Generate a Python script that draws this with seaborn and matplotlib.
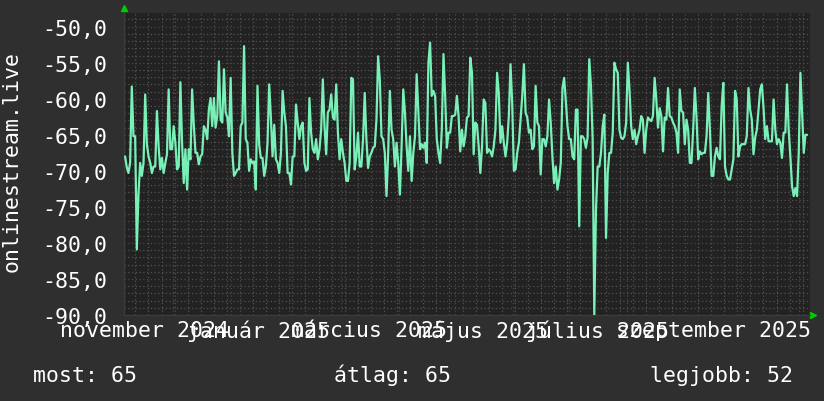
import pandas as pd
import matplotlib
matplotlib.use("Agg")
import matplotlib.pyplot as plt
import matplotlib.dates as mdates
from matplotlib.ticker import MultipleLocator, FuncFormatter, NullFormatter
import seaborn as sns

# ------------------------------
# adatok (napi értékek, leolvasva)
# ------------------------------
vals_nov_dec = [-68.0, -69.5, -70.3, -68.9, -58.3, -65.2, -65.2, -80.9, -73.1, -68.9,
                -70.7, -68.9, -59.4, -66.3, -68.0, -68.9, -70.3, -69.4, -69.4, -61.7,
                -66.6, -69.8, -68.2, -70.3, -68.9, -67.7, -58.7, -67.0, -67.0, -63.8,
                -66.1, -69.8, -69.4, -57.7, -66.1, -71.7, -67.0, -72.6, -67.0, -68.4,
                -58.7, -63.6, -67.5, -67.5, -69.1, -68.0, -67.7, -63.8, -64.3, -65.6,
                -61.5, -59.9, -63.8, -59.9, -64.0, -62.4, -54.8, -62.9, -63.3, -55.9,
                -61.9, -62.6, -65.2, -57.1]
vals_jan_feb = [-67.5, -70.7, -70.3, -69.8, -69.8, -63.8, -63.3, -52.7, -65.6, -66.1,
                -70.0, -68.4, -68.9, -68.7, -72.6, -58.2, -66.3, -68.2, -68.2, -70.7,
                -69.4, -66.1, -58.0, -62.6, -68.0, -63.6, -68.4, -68.9, -70.3, -67.5,
                -58.9, -61.9, -63.8, -70.3, -70.3, -71.9, -68.0, -68.0, -60.8, -63.3,
                -65.6, -63.8, -63.3, -68.9, -70.0, -69.8, -59.9, -64.7, -67.0, -67.5,
                -65.6, -68.4, -67.0, -64.3, -57.3, -63.8, -67.7, -61.9, -61.5, -59.4,
                -62.6, -62.9, -58.0, -64.7, -68.4, -65.6, -67.5, -68.9, -71.4]
vals_mar_apr = [-71.4, -68.9, -57.1, -57.3, -69.8, -68.0, -64.7, -69.4, -69.4, -65.6,
                -59.2, -65.6, -69.6, -68.0, -67.5, -66.8, -66.6, -62.9, -54.1, -57.3,
                -65.2, -65.6, -67.5, -73.5, -67.5, -58.9, -64.3, -65.6, -69.4, -66.1,
                -68.9, -73.3, -66.6, -58.7, -61.9, -66.6, -70.0, -65.2, -71.4, -67.5,
                -65.2, -56.6, -61.9, -67.0, -66.3, -66.8, -66.1, -68.9, -55.0, -52.2,
                -59.6, -58.9, -59.6, -65.6, -67.5, -68.9, -64.3, -53.8, -59.6, -66.8,
                -64.7, -64.7, -62.4, -62.4, -62.2, -59.6, -62.4, -67.3, -64.3]
vals_may_jun = [-66.6, -65.2, -62.6, -62.4, -54.3, -56.4, -67.7, -63.3, -63.6, -66.6,
                -70.3, -66.6, -60.1, -60.6, -67.5, -67.0, -67.3, -68.0, -66.6, -64.3,
                -56.4, -59.2, -66.1, -63.8, -66.1, -68.0, -66.1, -62.4, -55.2, -60.6,
                -70.0, -69.8, -67.5, -66.1, -62.9, -59.6, -55.2, -61.9, -62.6, -64.7,
                -64.3, -67.0, -66.6, -58.2, -63.3, -63.8, -70.5, -65.6, -65.6, -66.6,
                -65.2, -60.1, -63.3, -68.0, -71.7, -69.4, -72.6, -71.2, -68.9, -58.5,
                -57.1, -60.3, -63.8, -65.6, -65.6, -68.0, -68.4, -61.5, -61.5]
vals_jul_aug = [-77.7, -65.2, -65.2, -65.6, -66.8, -65.4, -54.5, -58.2, -65.6, -90.0,
                -75.4, -69.4, -69.4, -67.5, -63.8, -62.2, -79.3, -70.3, -67.5, -67.5,
                -64.7, -55.0, -55.9, -56.4, -64.3, -65.4, -65.6, -65.2, -63.3, -55.0,
                -58.7, -63.8, -65.6, -64.3, -66.3, -65.2, -64.3, -62.4, -62.9, -67.5,
                -64.3, -62.6, -62.9, -63.1, -62.4, -57.1, -60.1, -64.0, -61.3, -62.4,
                -67.3, -62.6, -62.9, -58.5, -62.4, -62.6, -63.3, -63.8, -64.7, -67.5,
                -58.7, -61.7, -61.9, -66.3, -62.9, -64.3, -68.9, -68.9]
vals_sep_oct = [-64.3, -58.5, -62.6, -68.4, -67.3, -67.7, -67.5, -67.5, -65.2, -59.2,
                -64.3, -70.7, -70.7, -68.0, -66.8, -68.0, -68.4, -61.0, -57.8, -69.4,
                -70.7, -71.2, -71.2, -69.8, -68.4, -58.9, -60.1, -68.0, -66.6, -66.3,
                -66.3, -66.3, -65.2, -58.5, -61.5, -62.9, -67.7, -65.4, -64.3, -61.5,
                -58.7, -58.0, -61.3, -65.6, -63.8, -65.9, -65.9, -65.9, -60.1, -64.3,
                -66.3, -65.6, -66.1, -68.2, -64.7, -64.7, -58.0, -64.3, -68.0, -72.1,
                -73.5, -72.4, -73.5, -67.5, -56.4, -61.9, -67.5, -65.0, -65.0]

honapok = ["január", "február", "március", "április", "május", "június",
           "július", "augusztus", "szeptember", "október", "november", "december"]
cimke_honapok = [1, 3, 5, 7, 9, 11]
sorozat_nev = "onlinestream.live"
stat_nevek = ["most", "átlag", "legjobb"]
stat_ertekek = [65, 65, 52]

values = vals_nov_dec + vals_jan_feb + vals_mar_apr + vals_may_jun + vals_jul_aug + vals_sep_oct
dates = pd.date_range("2024-11-05 12:00", "2025-11-05 08:00", periods=len(values))
df = pd.DataFrame({"datum": dates, "jel": values})

# ------------------------------
# stílus
# ------------------------------
sns.set_theme(style="dark")
plt.rcParams["font.family"] = ["DejaVu Sans Mono", "DejaVu Sans"]
fs = 15.5

fig = plt.figure(figsize=(8.24, 4.02), dpi=100, facecolor="#2f2f2f")
ax = fig.add_axes([124 / 824, 86 / 402, 686 / 824, 302 / 402])
ax.set_facecolor("#222222")
ax.set_axisbelow(True)

sns.lineplot(data=df, x="datum", y="jel", ax=ax, color="#78f0b8", linewidth=1.6, zorder=3)

ax.set_xlim(pd.Timestamp("2024-11-04 22:00"), pd.Timestamp("2025-11-06 21:00"))
ax.set_ylim(-90, -48.1)

# rácsvonalak
ax.xaxis.set_major_locator(mdates.MonthLocator())
ax.xaxis.set_minor_locator(mdates.WeekdayLocator(byweekday=mdates.MO))
ax.xaxis.set_major_formatter(NullFormatter())
ax.yaxis.set_major_locator(MultipleLocator(5))
ax.yaxis.set_minor_locator(MultipleLocator(1))
ax.yaxis.set_major_formatter(FuncFormatter(lambda v, p: f"{v:.1f}".replace(".", ",")))

ax.grid(which="major", color="#713838", linestyle=(0, (1, 2)), linewidth=0.9)
ax.grid(which="minor", color="#525252", linestyle=(0, (1, 2)), linewidth=0.9)

ax.tick_params(axis="x", which="major", length=3, width=1, color="#803c3c", direction="out")
ax.tick_params(axis="x", which="minor", length=0)
ax.tick_params(axis="y", which="both", length=0, pad=12.2, labelsize=fs, labelcolor="white")

for s in ["top", "right"]:
    ax.spines[s].set_visible(False)
for s in ["left", "bottom"]:
    ax.spines[s].set_color("#3c3c3c")
    ax.spines[s].set_linewidth(1)

ax.set_xlabel("")
ax.set_ylabel("")

# hónap címkék a hónap közepén
sec = ax.secondary_xaxis("bottom")
sec.xaxis.set_major_locator(mdates.MonthLocator(bymonth=cimke_honapok, bymonthday=16))
sec.xaxis.set_major_formatter(FuncFormatter(
    lambda v, p: f"{honapok[mdates.num2date(v).month - 1]} {mdates.num2date(v).year}"))
sec.tick_params(length=0, pad=3.6, labelsize=fs, labelcolor="white")
sec.spines["bottom"].set_visible(False)

# függőleges felirat
fig.text(12 / 824, 1 - 162 / 402, sorozat_nev, rotation=90, ha="center", va="center",
         fontsize=fs, color="white")

# nyilak
ax.plot([124 / 824], [1 - 9 / 402], marker="^", color="#00cc00", markersize=5,
        transform=fig.transFigure, clip_on=False)
ax.plot([813 / 824], [1 - 316 / 402], marker=">", color="#00cc00", markersize=5,
        transform=fig.transFigure, clip_on=False)

# összesítő sor
stat_x = [33, 334, 650]
for x, nev, ertek in zip(stat_x, stat_nevek, stat_ertekek):
    fig.text(x / 824, 20 / 402, f"{nev}: {ertek}", ha="left", va="baseline",
             fontsize=fs, color="white")

fig.savefig("out.png", dpi=100, facecolor=fig.get_facecolor())
